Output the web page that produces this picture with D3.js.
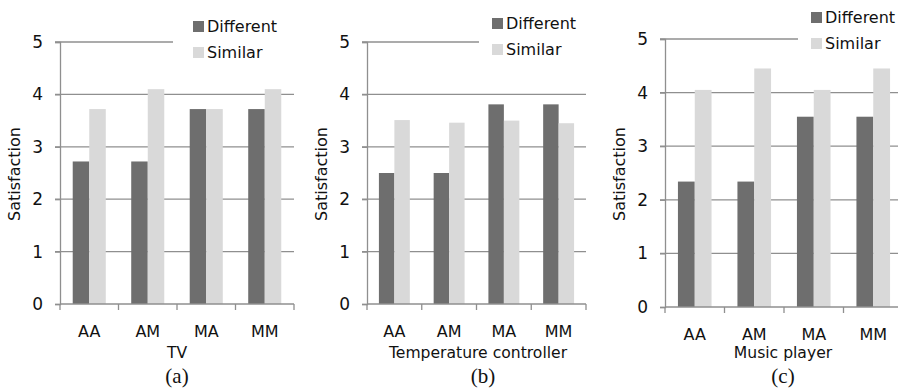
<!DOCTYPE html>
<html>
<head>
<meta charset="utf-8">
<script src="https://cdn.jsdelivr.net/npm/d3@7"></script>
<style>
  body { margin: 0; background: #fff; }
  svg { display: block; }
</style>
</head>
<body>
<div id="container"></div>
<script>
// data
var categories = ["AA", "AM", "MA", "MM"];
var seriesNames = ["Different", "Similar"];
var tvDifferent = [2.72, 2.72, 3.72, 3.72];
var tvSimilar = [3.72, 4.1, 3.72, 4.1];
var tempDifferent = [2.5, 2.5, 3.81, 3.81];
var tempSimilar = [3.51, 3.46, 3.5, 3.45];
var musicDifferent = [2.34, 2.34, 3.55, 3.55];
var musicSimilar = [4.05, 4.45, 4.05, 4.45];
var yTicks = [0, 1, 2, 3, 4, 5];
var panelTitles = ["TV", "Temperature controller", "Music player"];
var panelTags = ["(a)", "(b)", "(c)"];

var width = 898, height = 391;
var colors = { Different: "#6e6e6e", Similar: "#d9d9d9" };
var gridColor = "#8f8f8f";
var font = "DejaVu Sans, Verdana, sans-serif";

const svg = d3
  .select("#container")
  .append("svg")
  .attr("width", width)
  .attr("height", height);

// panel geometry (pixels)
var panels = [
  { x0: 60, x1: 294, yTop: 42, yBottom: 304, gridEnd: 173, legX: 193, legY: 21, labY: 337, titleX: 177, tagX: 177,
    values: [tvDifferent, tvSimilar] },
  { x0: 367, x1: 586, yTop: 42, yBottom: 304, gridEnd: 479, legX: 492, legY: 18, labY: 337, titleX: 478, tagX: 483,
    values: [tempDifferent, tempSimilar] },
  { x0: 665, x1: 903, yTop: 39, yBottom: 307, gridEnd: 798, legX: 811, legY: 12, labY: 340, titleX: 783, tagX: 783,
    values: [musicDifferent, musicSimilar] }
];

function drawPanel(p, i) {
  const g = svg.append("g").attr("class", "panel");

  const x = d3.scaleBand().domain(categories).range([p.x0, p.x1]).paddingInner(0).paddingOuter(0);
  const x2 = d3.scaleBand().domain(seriesNames).range([0, x.bandwidth()]).paddingInner(0).paddingOuter(0.77);
  const y = d3.scaleLinear().domain([0, 5]).range([p.yBottom, p.yTop]);

  // gridlines
  g.append("g")
    .selectAll("line")
    .data(yTicks.filter(t => t > 0))
    .enter()
    .append("line")
    .attr("x1", p.x0 - 5)
    .attr("x2", d => (d === 5 ? p.gridEnd : p.x1))
    .attr("y1", d => y(d))
    .attr("y2", d => y(d))
    .attr("stroke", gridColor)
    .attr("stroke-width", 1.3);

  // bars
  const rows = [];
  categories.forEach((c, ci) => {
    seriesNames.forEach((s, si) => rows.push({ cat: c, series: s, value: p.values[si][ci] }));
  });
  g.append("g")
    .selectAll("rect")
    .data(rows)
    .enter()
    .append("rect")
    .attr("x", d => x(d.cat) + x2(d.series))
    .attr("width", x2.bandwidth())
    .attr("y", d => y(d.value))
    .attr("height", d => y(0) - y(d.value))
    .attr("fill", d => colors[d.series]);

  // y axis
  const yAxis = g.append("g")
    .attr("transform", `translate(${p.x0},0)`)
    .call(d3.axisLeft(y).tickValues(yTicks).tickSize(5).tickPadding(12).tickFormat(d3.format("d")));
  yAxis.select(".domain").attr("stroke", gridColor).attr("stroke-width", 1.3);
  yAxis.selectAll(".tick line").attr("stroke", gridColor).attr("stroke-width", 1.3);
  yAxis.selectAll("text").attr("font-family", font).attr("font-size", "17px").attr("fill", "#111");

  // x axis
  const xAxis = g.append("g")
    .attr("transform", `translate(0,${p.yBottom})`)
    .call(d3.axisBottom(x).tickSize(0).tickPadding(0).tickFormat(""));
  xAxis.select(".domain").attr("stroke", gridColor).attr("stroke-width", 1.3).attr("d", `M${p.x0},0H${p.x1}`);
  xAxis.selectAll(".tick").remove();
  g.append("g")
    .selectAll("line")
    .data(categories.concat(["end"]))
    .enter()
    .append("line")
    .attr("x1", d => (d === "end" ? p.x1 : x(d)))
    .attr("x2", d => (d === "end" ? p.x1 : x(d)))
    .attr("y1", p.yBottom)
    .attr("y2", p.yBottom + 6)
    .attr("stroke", gridColor)
    .attr("stroke-width", 1.3);

  g.append("g")
    .selectAll("text")
    .data(categories)
    .enter()
    .append("text")
    .attr("x", d => x(d) + x.bandwidth() / 2)
    .attr("y", p.labY)
    .attr("text-anchor", "middle")
    .attr("font-family", font)
    .attr("font-size", "16px")
    .attr("fill", "#111")
    .text(d => d);

  // titles
  g.append("text")
    .attr("x", p.titleX)
    .attr("y", 358)
    .attr("text-anchor", "middle")
    .attr("font-family", font)
    .attr("font-size", "15.6px")
    .attr("fill", "#111")
    .text(panelTitles[i]);

  g.append("text")
    .attr("x", p.tagX)
    .attr("y", 383)
    .attr("text-anchor", "middle")
    .attr("font-family", "Liberation Serif, Times New Roman, serif")
    .attr("font-size", "21px")
    .attr("fill", "#111")
    .text(panelTags[i]);

  g.append("text")
    .attr("transform", `translate(${p.x0 - 40},${(p.yTop + p.yBottom) / 2 + 1}) rotate(-90)`)
    .attr("text-anchor", "middle")
    .attr("font-family", font)
    .attr("font-size", "16px")
    .attr("fill", "#111")
    .text("Satisfaction");

  // legend
  const legend = g.append("g").attr("transform", `translate(${p.legX},${p.legY})`);
  seriesNames.forEach((s, si) => {
    legend.append("rect")
      .attr("x", 0)
      .attr("y", si * 26)
      .attr("width", 11)
      .attr("height", 11)
      .attr("fill", colors[s]);
    legend.append("text")
      .attr("x", 14)
      .attr("y", si * 26 + 11)
      .attr("font-family", font)
      .attr("font-size", "16px")
      .attr("fill", "#111")
      .text(s);
  });
}

panels.forEach(drawPanel);
</script>
</body>
</html>
